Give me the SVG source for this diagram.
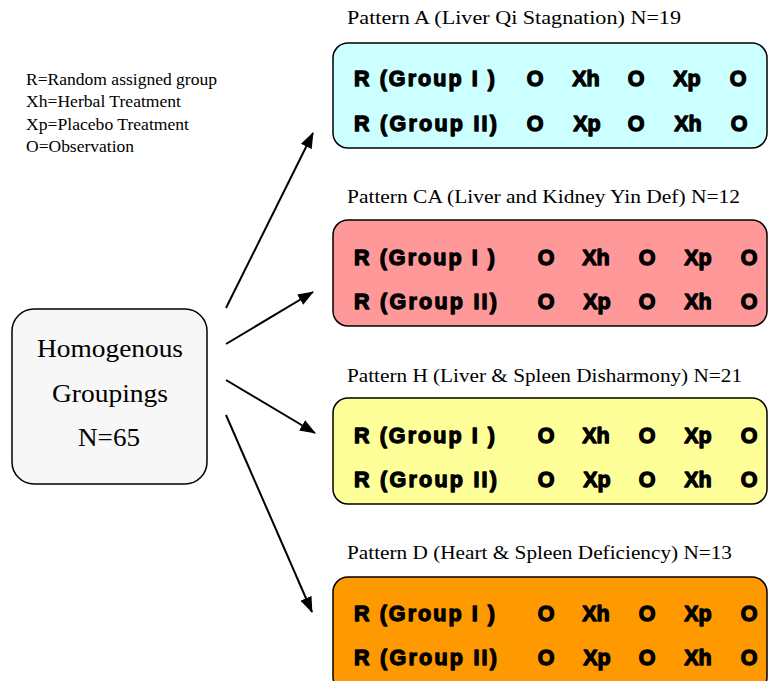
<svg xmlns="http://www.w3.org/2000/svg" width="769" height="681" viewBox="0 0 769 681">
<defs>
<marker id="ah" markerWidth="16" markerHeight="12" refX="15" refY="6" orient="auto" markerUnits="userSpaceOnUse">
<path d="M0,0 L16,6 L0,12 Z" fill="#000"/>
</marker>
<style>
.ser{font-family:"Liberation Serif","Times New Roman",serif;fill:#000}
.leg{font-size:17px}
.ttl{font-size:19px}
.big{font-size:25px;text-anchor:middle}
.box{stroke:#000;stroke-width:1.5}
.bt{font-family:"Liberation Sans",Arial,sans-serif;font-weight:700;font-size:21.5px;fill:#000;stroke:#000;stroke-width:1.3;stroke-linejoin:round}
.c{text-anchor:middle}
.con line{stroke:#000;stroke-width:2;marker-end:url(#ah)}
</style>
</defs>
<rect width="769" height="681" fill="#fff"/>

<g id="legend" class="ser leg">
<text x="26" y="85" textLength="191" lengthAdjust="spacingAndGlyphs">R=Random assigned group</text>
<text x="26" y="107" textLength="155" lengthAdjust="spacingAndGlyphs">Xh=Herbal Treatment</text>
<text x="26" y="130" textLength="163" lengthAdjust="spacingAndGlyphs">Xp=Placebo Treatment</text>
<text x="26" y="152" textLength="108" lengthAdjust="spacingAndGlyphs">O=Observation</text>
</g>

<g id="homogenous">
<rect class="box" x="12" y="309" width="195" height="175" rx="22" fill="#f7f7f7"/>
<text class="ser big" x="110" y="357" textLength="146" lengthAdjust="spacingAndGlyphs">Homogenous</text>
<text class="ser big" x="110" y="402" textLength="116" lengthAdjust="spacingAndGlyphs">Groupings</text>
<text class="ser big" x="109" y="446" textLength="62" lengthAdjust="spacingAndGlyphs">N=65</text>
</g>

<g id="patternA">
<text class="ser ttl" x="347" y="24" textLength="334" lengthAdjust="spacingAndGlyphs">Pattern A (Liver Qi Stagnation) N=19</text>
<rect class="box" x="333" y="43" width="434" height="105" rx="15" fill="#ccffff"/>
<text class="bt" x="354" y="86" textLength="141" lengthAdjust="spacing">R (Group I )</text>
<text class="bt c" x="535" y="86">O</text><text class="bt c" x="586" y="86">Xh</text><text class="bt c" x="636" y="86">O</text><text class="bt c" x="687" y="86">Xp</text><text class="bt c" x="738" y="86">O</text>
<text class="bt" x="354" y="131" textLength="143" lengthAdjust="spacing">R (Group II)</text>
<text class="bt c" x="535" y="131">O</text><text class="bt c" x="587" y="131">Xp</text><text class="bt c" x="636" y="131">O</text><text class="bt c" x="688" y="131">Xh</text><text class="bt c" x="739" y="131">O</text>
</g>

<g id="patternCA">
<text class="ser ttl" x="347" y="203" textLength="393" lengthAdjust="spacingAndGlyphs">Pattern CA (Liver and Kidney Yin Def) N=12</text>
<rect class="box" x="333" y="220" width="434" height="106" rx="15" fill="#ff9999"/>
<text class="bt" x="354" y="265" textLength="141" lengthAdjust="spacing">R (Group I )</text>
<text class="bt c" x="546" y="265">O</text><text class="bt c" x="596" y="265">Xh</text><text class="bt c" x="647" y="265">O</text><text class="bt c" x="698" y="265">Xp</text><text class="bt c" x="749" y="265">O</text>
<text class="bt" x="354" y="309" textLength="143" lengthAdjust="spacing">R (Group II)</text>
<text class="bt c" x="546" y="309">O</text><text class="bt c" x="597" y="309">Xp</text><text class="bt c" x="647" y="309">O</text><text class="bt c" x="698" y="309">Xh</text><text class="bt c" x="749" y="309">O</text>
</g>

<g id="patternH">
<text class="ser ttl" x="347" y="382" textLength="395" lengthAdjust="spacingAndGlyphs">Pattern H (Liver &amp; Spleen Disharmony) N=21</text>
<rect class="box" x="333" y="398" width="434" height="106" rx="15" fill="#ffff99"/>
<text class="bt" x="354" y="443" textLength="141" lengthAdjust="spacing">R (Group I )</text>
<text class="bt c" x="546" y="443">O</text><text class="bt c" x="596" y="443">Xh</text><text class="bt c" x="647" y="443">O</text><text class="bt c" x="698" y="443">Xp</text><text class="bt c" x="749" y="443">O</text>
<text class="bt" x="354" y="487" textLength="143" lengthAdjust="spacing">R (Group II)</text>
<text class="bt c" x="546" y="487">O</text><text class="bt c" x="597" y="487">Xp</text><text class="bt c" x="647" y="487">O</text><text class="bt c" x="698" y="487">Xh</text><text class="bt c" x="749" y="487">O</text>
</g>

<g id="patternD">
<text class="ser ttl" x="347" y="559" textLength="385" lengthAdjust="spacingAndGlyphs">Pattern D (Heart &amp; Spleen Deficiency) N=13</text>
<rect class="box" x="333" y="577" width="434" height="115" rx="15" fill="#ff9900"/>
<text class="bt" x="354" y="621" textLength="141" lengthAdjust="spacing">R (Group I )</text>
<text class="bt c" x="546" y="621">O</text><text class="bt c" x="596" y="621">Xh</text><text class="bt c" x="647" y="621">O</text><text class="bt c" x="698" y="621">Xp</text><text class="bt c" x="749" y="621">O</text>
<text class="bt" x="354" y="665" textLength="143" lengthAdjust="spacing">R (Group II)</text>
<text class="bt c" x="546" y="665">O</text><text class="bt c" x="597" y="665">Xp</text><text class="bt c" x="647" y="665">O</text><text class="bt c" x="698" y="665">Xh</text><text class="bt c" x="749" y="665">O</text>
</g>

<g id="connectors" class="con">
<line x1="226" y1="308" x2="313" y2="133"/>
<line x1="226" y1="344" x2="313" y2="292"/>
<line x1="226" y1="380" x2="315" y2="433"/>
<line x1="226" y1="415" x2="312" y2="612"/>
</g>
</svg>
